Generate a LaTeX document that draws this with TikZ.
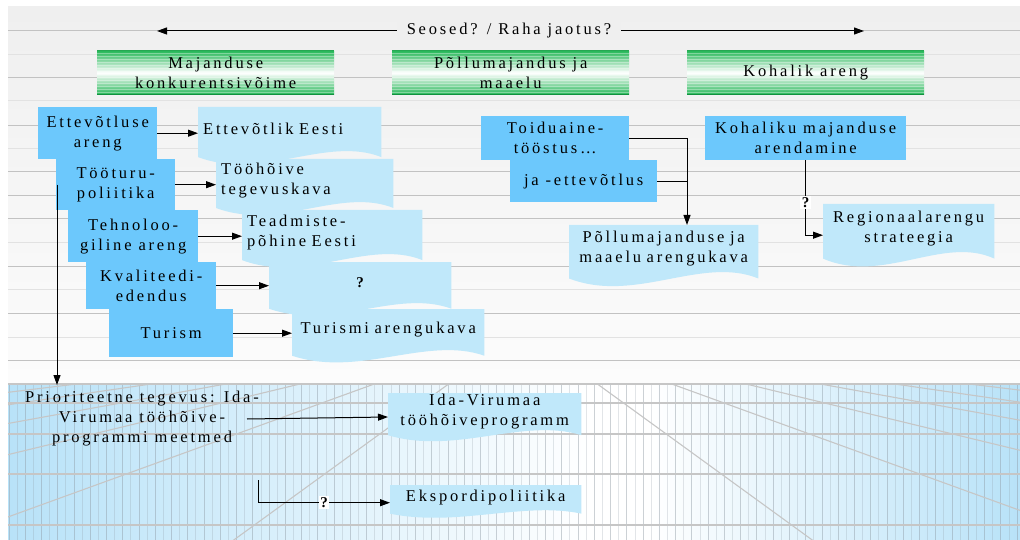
\documentclass[tikz,border=0pt]{standalone}
\usepackage{fontspec}
\setmainfont{Liberation Serif}[LetterSpace=17]
\usetikzlibrary{arrows.meta,calc}
\definecolor{boxblue}{HTML}{6CC8FC}
\definecolor{docblue}{HTML}{C0E8FA}
\definecolor{hgreen}{HTML}{2BB95C}
\definecolor{hgreendk}{HTML}{12913F}
\definecolor{slidegray}{HTML}{EFEFEF}
\definecolor{slidelight}{HTML}{FCFCFC}
\definecolor{floorblue}{HTML}{B8E2F8}
\definecolor{linedk}{HTML}{C2C2C2}
\definecolor{linelt}{HTML}{E2E2E2}
\definecolor{gridgray}{HTML}{C6C6C6}
\definecolor{vgray}{HTML}{8E9AA4}
\pgfdeclarelayer{bg}\pgfdeclarelayer{back}\pgfsetlayers{bg,back,main}
\newcommand\wavefill[1]{%
  \fill[docblue] let \p1=(#1.north west), \p2=(#1.south east) in
    (\p1) -- (\x2,\y1) -- (\x2,{\y1-0.88*(\y1-\y2)/0.78})
    .. controls ({\x1+0.7*(\x2-\x1)},{\y1-0.5*(\y1-\y2)/0.78})
           and ({\x1+0.35*(\x2-\x1)},{\y1-1.3*(\y1-\y2)/0.78})
    .. (\x1,{\y1-0.88*(\y1-\y2)/0.78}) -- cycle;}
\begin{document}
\begin{tikzpicture}[x=1pt,y=-1pt,
  font=\fontsize{16.5}{20}\selectfont,
  arr/.style={-{Triangle[length=10pt,width=7pt]}, line width=1pt},
  conn/.style={line width=1pt},
  bbox/.style={fill=boxblue, align=center, inner sep=2pt, anchor=north west},
  doc/.style={inner xsep=5pt, inner ysep=0pt, anchor=north west},
  hdr/.style={minimum width=237, minimum height=43, inner sep=0pt, align=center,
    anchor=north west, top color=hgreen, bottom color=hgreen, middle color=white,
    path picture={\foreach \k in {2,5,...,41}{\draw[white,opacity=.35,line width=1pt]
      ([yshift=-\k pt]path picture bounding box.north west) --
      ([yshift=-\k pt]path picture bounding box.north east);}}},
  qmark/.style={fill=white, inner sep=1.5pt, font=\fontsize{15}{18}\selectfont\bfseries},
  hl/.style={line width=1pt}]
\useasboundingbox (0,0) rectangle (1020,540);

% ---------- background ----------
\begin{pgfonlayer}{bg}
\fill[white] (0,0) rectangle (1020,540);
\shade[top color=slidegray, bottom color=slidelight] (8,7) rectangle (1020,383);
\foreach \yy/\cc in {31/linedk,55/linelt,78/linedk,101/linelt,126/linedk,149/linelt,
  172/linedk,196/linedk,219/linedk,243/linelt,266/linedk,289/linelt,313/linedk,
  337/linelt,360/linedk}
  \draw[hl,\cc] (8,\yy) -- (1020,\yy);
\begin{scope}
\clip (8,383) rectangle (1020,540);
\shade[left color=floorblue, right color=white] (8,383) rectangle (590,540);
\fill[white] (590,383) rectangle (650,540);
\shade[left color=white, right color=floorblue] (650,383) rectangle (1020,540);
\foreach \i in {0,...,124}{
  \pgfmathsetmacro\op{mod(\i,2)==0 ? 0.45 : 0.25}
  \draw[vgray,opacity=\op,line width=1pt] ({9+\i*8.13},383) -- ++(0,157);}
\foreach \yy in {403,434,474,525}
  \draw[gridgray,line width=1.5pt] (8,\yy) -- (1020,\yy);
\foreach \k in {-7,...,-1,1,2,...,7}
  \draw[gridgray,line width=1.1pt] (523,330) -- ({523+73*\k*12},{330+53*12});
\draw[gridgray,line width=2pt] (8,384) -- (1020,384);
\end{scope}
\end{pgfonlayer}

% ---------- top arrow ----------
\node[fill=slidegray, inner xsep=10pt, inner ysep=2pt] (seo) at (509,31) {Seosed? / Raha jaotus?};
\coordinate (sl) at (157,31);
\coordinate (sr) at (864,31);
\draw[arr] (seo.west) -- (sl);
\draw[arr] (seo.east) -- (sr);

% ---------- headers ----------
\node[hdr] (h1) at (97,51) {Majanduse\\konkurentsivõime};
\node[hdr] (h2) at (392,51) {Põllumajandus ja\\maaelu};
\node[hdr] (h3) at (687,51) {Kohalik areng};
\foreach \h in {h1,h2,h3}{
  \draw[hgreendk,line width=1.5pt] (\h.south west) -- (\h.south east);
  \draw[hgreen!90!black,line width=1pt] (\h.north west) -- (\h.north east);}

% ---------- left column ----------
\node[bbox, minimum width=119, minimum height=52] (ett) at (38,107) {Ettevõtluse\\areng};
\node[bbox, minimum width=119, minimum height=51] (too) at (56,159) {Tööturu-\\poliitika};
\node[bbox, minimum width=130, minimum height=52] (teh) at (68,210) {Tehnoloo-\\giline areng};
\node[bbox, minimum width=130, minimum height=47] (kva) at (86,262) {Kvaliteedi-\\edendus};
\node[bbox, minimum width=124, minimum height=48] (tur) at (109,309) {Turism};

\node[doc, align=left, text width=173, minimum height=44] (d1) at (198,107) {Ettevõtlik Eesti\\[14pt]};
\node[doc, align=left, text width=167, minimum height=43] (d2) at (216,159) {Tööhõive\\tegevuskava};
\node[doc, align=left, text width=170, minimum height=44] (d3) at (242,210) {Teadmiste-\\põhine Eesti};
\node[doc, align=center, text width=172, minimum height=41, font=\fontsize{15}{18}\selectfont\bfseries] (d4) at (269,262) {?};
\node[doc, align=center, text width=182, minimum height=41] (d5) at (292,309) {Turismi arengukava};

\draw[arr] (ett.east) -- (ett.east -| d1.west);
\draw[arr] (too.east) -- (too.east -| d2.west);
\draw[arr] (teh.east) -- (teh.east -| d3.west);
\draw[arr] (kva.east) -- (kva.east -| d4.west);
\draw[arr] (tur.east) -- (tur.east -| d5.west);

% ---------- middle / right ----------
\node[bbox, minimum width=148, minimum height=44] (toid) at (481,116) {Toiduaine-\\tööstus…};
\node[bbox, minimum width=147, minimum height=42] (ja) at (510,160) {ja -ettevõtlus};
\node[bbox, minimum width=201, minimum height=44] (koh) at (705,116) {Kohaliku majanduse\\arendamine};
\node[doc, align=center, text width=179, minimum height=47] (pol) at (569,225) {Põllumajanduse ja\\maaelu arengukava};
\node[doc, align=center, text width=161, minimum height=48] (reg) at (823,204) {Regionaalarengu\\strateegia};

\coordinate (jx) at (687,0);
\draw[arr] (toid.east) -| (jx |- pol.north);
\draw[conn] (ja.east) -- (ja.east -| jx);
\draw[arr] (koh.south) |- node[qmark,pos=0.28]{?} ([yshift=-7pt]reg.west);

% ---------- bottom ----------
\node[align=center, inner sep=0pt] (prio) at (142,419) {Prioriteetne tegevus: Ida-\\Virumaa tööhõive-\\programmi meetmed};
\node[doc, align=center, text width=183, minimum height=37] (ida) at (388,393) {Ida-Virumaa\\tööhõiveprogramm};
\node[doc, align=center, text width=181, minimum height=25] (eks) at (390,485) {Ekspordipoliitika};

\coordinate (vend) at (57,385);
\draw[arr] ([xshift=1pt]too.west) -- (vend);
\draw[arr] ([xshift=-12pt]prio.east) -- ([yshift=2pt]prio.east -| ida.west);
\coordinate (ek0) at (258,480);
\draw[conn,-{Triangle[length=10pt,width=7pt]}] (ek0) |- node[qmark,pos=0.75]{?} ([yshift=-5pt]eks.west);

% ---------- document shapes ----------
\begin{pgfonlayer}{back}
\foreach \d in {d1,d2,d3,d4,d5,pol,reg,ida,eks}{\wavefill{\d}}
\end{pgfonlayer}
\end{tikzpicture}
\end{document}
